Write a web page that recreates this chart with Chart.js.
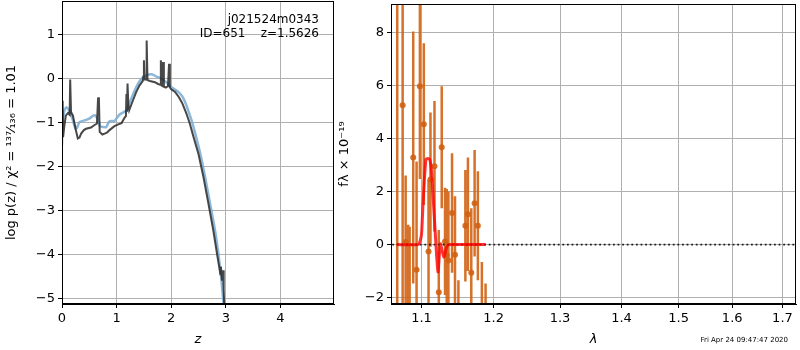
<!DOCTYPE html>
<html>
<head>
<meta charset="utf-8">
<script src="https://cdn.jsdelivr.net/npm/chart.js@4.4.0/dist/chart.umd.min.js"></script>
<style>
  body { margin: 0; width: 800px; height: 350px; background: #fff; position: relative; overflow: hidden; }
  #pzChart { position: absolute; left: 0; top: 0; }
  #specChart { position: absolute; left: 336px; top: 0; }
</style>
</head>
<body>
<canvas id="pzChart" width="340" height="350"></canvas>
<canvas id="specChart" width="464" height="350"></canvas>
<script>
'use strict';

// left panel: log p(z)
let pzZ = [0.005, 0.012, 0.02, 0.04, 0.07, 0.11, 0.14, 0.15, 0.165, 0.2, 0.25, 0.29, 0.32, 0.35, 0.4, 0.44, 0.53, 0.59, 0.64, 0.66, 0.675, 0.69, 0.74, 0.78, 0.83, 0.87, 0.96, 1.03, 1.09, 1.15, 1.17, 1.18, 1.19, 1.2, 1.215, 1.23, 1.3, 1.36, 1.42, 1.48, 1.49, 1.5, 1.51, 1.54, 1.55, 1.565, 1.61, 1.7, 1.76, 1.8, 1.81, 1.825, 1.84, 1.85, 1.865, 1.9, 1.94, 1.96, 1.975, 2.0, 2.07, 2.13, 2.2, 2.28, 2.34, 2.4, 2.5, 2.59, 2.68, 2.77, 2.84, 2.88, 2.9, 2.91, 2.93, 2.95, 2.96, 2.975];
let pzLog = [-0.55, -0.5, -1.33, -1.1, -0.84, -0.78, -0.82, -0.02, -0.76, -0.84, -1.15, -1.36, -1.34, -1.25, -1.17, -1.14, -1.11, -1.06, -1.02, -0.45, -0.42, -1.21, -1.27, -1.25, -1.22, -1.17, -1.08, -1.04, -1.01, -0.88, -0.85, -0.35, -0.75, -0.11, -0.6, -0.72, -0.49, -0.3, -0.15, -0.05, 0.05, 0.42, -0.02, -0.02, 0.87, -0.03, -0.05, -0.08, -0.12, -0.14, 0.42, -0.16, -0.17, 0.38, -0.18, -0.2, -0.17, 0.34, -0.2, -0.24, -0.3, -0.4, -0.55, -0.8, -1.02, -1.29, -1.72, -2.24, -2.84, -3.45, -4.0, -4.3, -4.45, -4.28, -4.6, -4.36, -4.8, -5.3];

let priorZ = [0.0, 0.01, 0.04, 0.08, 0.12, 0.16, 0.2, 0.25, 0.28, 0.32, 0.41, 0.5, 0.56, 0.6, 0.65, 0.7, 0.76, 0.81, 0.87, 0.96, 1.0, 1.06, 1.18, 1.22, 1.27, 1.36, 1.45, 1.54, 1.64, 1.73, 1.82, 1.91, 2.0, 2.13, 2.2, 2.25, 2.31, 2.38, 2.44, 2.53, 2.62, 2.71, 2.81, 2.9, 2.97];
let priorLog = [-1.5, -1.05, -0.75, -0.65, -0.7, -0.8, -0.95, -1.14, -1.1, -0.99, -0.95, -0.91, -0.85, -0.83, -0.91, -1.08, -1.1, -1.1, -0.97, -0.96, -0.9, -0.81, -0.72, -0.6, -0.45, -0.19, -0.01, 0.07, 0.1, 0.05, 0.0, -0.08, -0.19, -0.3, -0.4, -0.52, -0.72, -0.98, -1.25, -1.7, -2.24, -2.84, -3.52, -4.36, -5.3];

let zTicks = [0, 1, 2, 3, 4];
let logTicks = [-5, -4, -3, -2, -1, 0, 1];

// right panel: spectrum
let specLam = [1.0682, 1.0752, 1.0791, 1.0824, 1.0843, 1.0890, 1.0934, 1.0978, 1.1030, 1.1093, 1.1119, 1.1173, 1.1231, 1.1271, 1.1316, 1.1339, 1.1362, 1.1412, 1.1453, 1.1500, 1.1597, 1.1633, 1.1680, 1.1727, 1.1773, 1.1830, 1.1883];
let specFlux = [10.5, 5.25, 0.1, -2.6, -2.7, 3.28, -0.95, 5.97, 4.54, -0.26, 2.45, 2.95, -1.8, 3.67, 0.12, -0.4, -0.6, 1.19, -0.38, -3.0, 0.71, 1.14, -1.06, 1.56, 0.71, -2.5, -3.0];
let specErr = [13, 8, 2.5, 3.35, 3.37, 4.75, 4.08, 3.5, 3.05, 2.7, 2.53, 2.46, 2.35, 2.3, 2.02, 2.5, 2.6, 2.25, 2.2, 1.66, 2.1, 2.14, 2.43, 2.01, 2.05, 1.84, 1.53];

let modelLam = [1.0675, 1.0955, 1.0978, 1.1, 1.1021, 1.1057, 1.1083, 1.111, 1.1133, 1.1168, 1.12, 1.1221, 1.1253, 1.1298, 1.1342, 1.1379, 1.1885];
let modelFlux = [0, 0, 0.1, 0.4, 1.64, 3.2, 3.25, 3.2, 2.76, 1.16, -0.34, -1.03, 0.03, -0.47, -0.07, 0, 0];

let zeroLam = [1.05, 1.75];
let lamTicks = [1.1, 1.2, 1.3, 1.4, 1.5, 1.6, 1.7];
let fluxTicks = [-2, 0, 2, 4, 6, 8];

const FONT = 'DejaVu Sans';
const GRID = '#b0b0b0';
const ORANGE = 'rgba(210,98,18,0.9)';

function pairs(xs, ys) {
  return xs.map((x, i) => ({x: x, y: ys[i]}));
}

function minus(v) {
  return String(v).replace('-', '\u2212');
}

// fixed box size for an axis, no extra room for edge labels
function fixSize(prop, size) {
  return s => {
    s[prop] = size;
    s.paddingTop = 0;
    s.paddingBottom = 0;
    s.paddingLeft = 0;
    s.paddingRight = 0;
  };
}

function axis(ticksArr, min, max, fit, title, titlePad, extra) {
  let a = {
    type: 'linear',
    min: min,
    max: max,
    afterBuildTicks: s => { s.ticks = ticksArr.map(v => ({value: v})); },
    afterFit: fit,
    grid: {color: GRID, lineWidth: 1, tickColor: 'black', tickLength: 4},
    border: {color: 'black', width: 1},
    ticks: {color: 'black', font: {family: FONT, size: 13}, padding: 3, maxRotation: 0, autoSkip: false, callback: v => minus(v)},
    title: {display: true, text: title, color: 'black', font: {family: FONT, size: 13, lineHeight: 1}, padding: titlePad}
  };
  return Object.assign(a, extra || {});
}

const framePlugin = {
  id: 'frame',
  afterDraw(chart) {
    let a = chart.chartArea;
    let c = chart.ctx;
    c.save();
    c.strokeStyle = 'black';
    c.lineWidth = 1;
    c.strokeRect(Math.round(a.left) + 0.5, Math.round(a.top) + 0.5, Math.round(a.right - a.left) - 1, Math.round(a.bottom - a.top) - 1);
    c.restore();
  }
};

const labelPlugin = {
  id: 'labels',
  afterDraw(chart) {
    let c = chart.ctx;
    c.save();
    c.fillStyle = 'black';
    c.textAlign = 'right';
    c.textBaseline = 'middle';
    c.font = '12px ' + FONT;
    c.fillText('j021524m0343', 319, 20);
    c.fillText('ID=651    z=1.5626', 319, 34);
    c.restore();
  }
};

const datePlugin = {
  id: 'date',
  afterDraw(chart) {
    let c = chart.ctx;
    c.save();
    c.fillStyle = 'black';
    c.textAlign = 'right';
    c.textBaseline = 'middle';
    c.font = '7px ' + FONT;
    c.fillText('Fri Apr 24 09:47:47 2020', 452, 340);
    c.restore();
  }
};

function buildPz() {
  new Chart(document.getElementById('pzChart'), {
    type: 'line',
    data: {
      datasets: [
        {data: pairs(pzZ, pzLog), borderColor: 'rgba(40,40,40,0.85)', borderWidth: 2, pointRadius: 0, tension: 0},
        {data: pairs(priorZ, priorLog), borderColor: 'rgba(120,170,210,0.85)', borderWidth: 2.5, pointRadius: 0, tension: 0.3}
      ]
    },
    options: {
      responsive: false,
      animation: false,
      layout: {padding: {top: 1, right: 6, left: 0, bottom: 0}},
      plugins: {legend: {display: false}, tooltip: {enabled: false}},
      scales: {
        x: axis(zTicks, 0, 4.98, fixSize('height', 46), 'z', {top: 0, bottom: 3.5}, {title: {display: true, text: 'z', color: 'black', font: {family: FONT, size: 13, style: 'italic', lineHeight: 1}, padding: {top: 0, bottom: 3.5}}}),
        y: axis(logTicks, -5.13, 1.77, fixSize('width', 62), 'log p(z) / \u03c7\u00b2 = \u00b9\u00b3\u2077\u2044\u2081\u2083\u2086 = 1.01', {top: 5.5, bottom: 0})
      }
    },
    plugins: [framePlugin, labelPlugin]
  });
}

function buildSpec() {
  let barPts = [];
  for (let i = 0; i < specLam.length; i++) {
    barPts.push({x: specLam[i], y: specFlux[i] - specErr[i]});
    barPts.push({x: specLam[i], y: specFlux[i] + specErr[i]});
    barPts.push({x: specLam[i], y: null});
  }
  new Chart(document.getElementById('specChart'), {
    type: 'line',
    data: {
      datasets: [
        {data: pairs(modelLam, modelFlux), borderColor: 'rgba(255,0,0,0.8)', borderWidth: 3, pointRadius: 0, tension: 0.2},
        {data: pairs(zeroLam, [0, 0]), borderColor: 'rgba(0,0,0,0.85)', borderWidth: 1.8, borderDash: [1.8, 2.8], pointRadius: 0},
        {data: pairs(specLam, specFlux), showLine: false, pointRadius: 3, pointBackgroundColor: ORANGE, pointBorderWidth: 0, borderColor: 'rgba(0,0,0,0)'},
        {data: barPts, borderColor: ORANGE, borderWidth: 2.5, pointRadius: 0, spanGaps: false}
      ]
    },
    options: {
      responsive: false,
      animation: false,
      layout: {padding: {top: 1, right: 2, left: 0, bottom: 0}},
      plugins: {legend: {display: false}, tooltip: {enabled: false}},
      scales: {
        x: axis(lamTicks, 1.0602, 1.728, fixSize('height', 46), '\u03bb', {top: 0, bottom: 3.5}, {
          type: 'logarithmic',
          ticks: {color: 'black', font: {family: FONT, size: 13}, padding: 3, maxRotation: 0, autoSkip: false, callback: v => Number(v).toFixed(1)},
          title: {display: true, text: '\u03bb', color: 'black', font: {family: FONT, size: 13, style: 'italic', lineHeight: 1}, padding: {top: 0, bottom: 3.5}}
        }),
        y: axis(fluxTicks, -2.24, 9.07, fixSize('width', 55), 'f\u03bb \u00d7 10\u207b\u00b9\u2079', {top: 2.5, bottom: 0})
      }
    },
    plugins: [framePlugin, datePlugin]
  });
}

buildPz();
buildSpec();
</script>
</body>
</html>
